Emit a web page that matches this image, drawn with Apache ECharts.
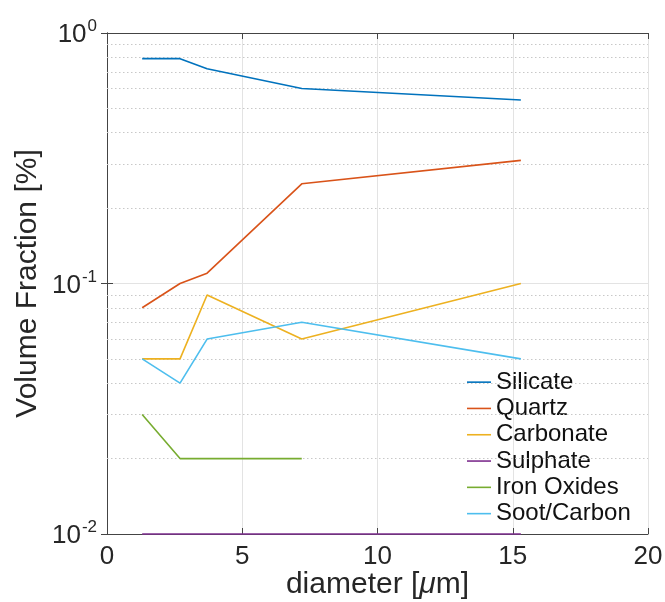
<!DOCTYPE html>
<html>
<head>
<meta charset="utf-8">
<script src="https://cdn.jsdelivr.net/npm/echarts@6/dist/echarts.min.js"></script>
<style>html,body{margin:0;padding:0;background:#fff}#c{width:665px;height:602px}</style>
</head>
<body>
<div id="c"></div>
<script>
const diameters = [1.3, 2.7, 3.7, 7.2, 15.3];
const silicate  = [0.79, 0.79, 0.72, 0.60, 0.54];
const quartz    = [0.08, 0.10, 0.11, 0.25, 0.31];
const carbonate = [0.05, 0.05, 0.09, 0.06, 0.10];
const sulphate  = [0.01, 0.01, 0.01, 0.01, 0.01];
const ironOxides = [0.03, 0.02, 0.02, 0.02, null];
const sootCarbon = [0.05, 0.04, 0.06, 0.07, 0.05];
const seriesNames = ['Silicate', 'Quartz', 'Carbonate', 'Sulphate', 'Iron Oxides', 'Soot/Carbon'];
const minorGridValues = [0.02,0.03,0.04,0.05,0.06,0.07,0.08,0.09,0.2,0.3,0.4,0.5,0.6,0.7,0.8,0.9];
const xTicks = [0, 5, 10, 15, 20];

const colors = ['#0072BD', '#D95319', '#EDB120', '#7E2F8E', '#77AC30', '#4DBEEE'];
const allData = [silicate, quartz, carbonate, sulphate, ironOxides, sootCarbon];
const font = 'Liberation Sans, Arial, Helvetica, sans-serif';

function pairs(arr) {
  const out = [];
  arr.forEach((v, i) => { if (v !== null) out.push([diameters[i], v]); });
  return out;
}

const series = allData.map((d, i) => ({
  name: seriesNames[i],
  type: 'line',
  data: pairs(d),
  symbol: 'none',
  clip: false,
  z: 5,
  lineStyle: { color: colors[i], width: 1.6 },
  itemStyle: { color: colors[i] }
}));
series[0].markLine = {
  silent: true,
  symbol: 'none',
  label: { show: false },
  animation: false,
  lineStyle: { type: [1.5, 2.5], color: '#c8c8c8', width: 1 },
  data: minorGridValues.map(v => ({ yAxis: v }))
};

const chart = echarts.init(document.getElementById('c'), null, { renderer: 'canvas' });
chart.setOption({
  animation: false,
  backgroundColor: '#fff',
  textStyle: { fontFamily: font },
  grid: { left: 107, top: 33, right: 17, bottom: 68, containLabel: false, outerBoundsMode: 'none' },
  legend: {
    orient: 'vertical',
    left: 462,
    top: 364,
    icon: 'rect',
    itemWidth: 24,
    itemHeight: 1.6,
    itemGap: 0,
    data: seriesNames,
    textStyle: { fontFamily: font, fontSize: 24, color: '#111', lineHeight: 26.3 }
  },
  xAxis: [{
    type: 'value', min: 0, max: 20, interval: 5, position: 'bottom',
    name: 'diameter [{i|μ}m]', nameLocation: 'middle', nameGap: 36, nameMoveOverlap: false,
    nameTextStyle: { fontFamily: font, fontSize: 30, color: '#262626', rich: { i: { fontFamily: font, fontSize: 30, fontStyle: 'italic', color: '#262626' } } },
    axisLine: { show: true, lineStyle: { color: '#444', width: 1 } },
    axisTick: { show: true, inside: true, length: 6, lineStyle: { color: '#444' } },
    axisLabel: { fontFamily: font, fontSize: 26, color: '#262626', margin: 10, formatter: v => xTicks.includes(v) ? String(v) : '' },
    splitLine: { show: true, lineStyle: { color: '#e3e3e3', width: 1 } }
  }, {
    type: 'value', min: 0, max: 20, interval: 5, position: 'top',
    axisLine: { show: true, lineStyle: { color: '#444', width: 1 } },
    axisTick: { show: true, inside: true, length: 6, lineStyle: { color: '#444' } },
    axisLabel: { show: false },
    splitLine: { show: false }
  }],
  yAxis: [{
    type: 'log', logBase: 10, min: 0.01, max: 1, position: 'left',
    name: 'Volume Fraction [%]', nameLocation: 'middle', nameGap: 64, nameMoveOverlap: false,
    nameTextStyle: { fontFamily: font, fontSize: 30, color: '#262626' },
    axisLine: { show: true, lineStyle: { color: '#444', width: 1 } },
    axisTick: { show: true, inside: true, length: 6, lineStyle: { color: '#444' } },
    axisLabel: {
      margin: 10,
      formatter: v => '{b|10}{s|' + Math.round(Math.log10(v)) + '}',
      rich: {
        b: { fontFamily: font, fontSize: 26, color: '#262626', lineHeight: 30, verticalAlign: 'bottom' },
        s: { fontFamily: font, fontSize: 17, color: '#262626', lineHeight: 30, verticalAlign: 'top', padding: [0, 0, 10, 1] }
      }
    },
    splitLine: { show: true, lineStyle: { color: '#e3e3e3', width: 1 } }
  }, {
    type: 'log', logBase: 10, min: 0.01, max: 1, position: 'right',
    axisLine: { show: true, lineStyle: { color: '#444', width: 1 } },
    axisTick: { show: true, inside: true, length: 6, lineStyle: { color: '#444' } },
    axisLabel: { show: false },
    splitLine: { show: false }
  }],
  series: series
});
</script>
</body>
</html>
